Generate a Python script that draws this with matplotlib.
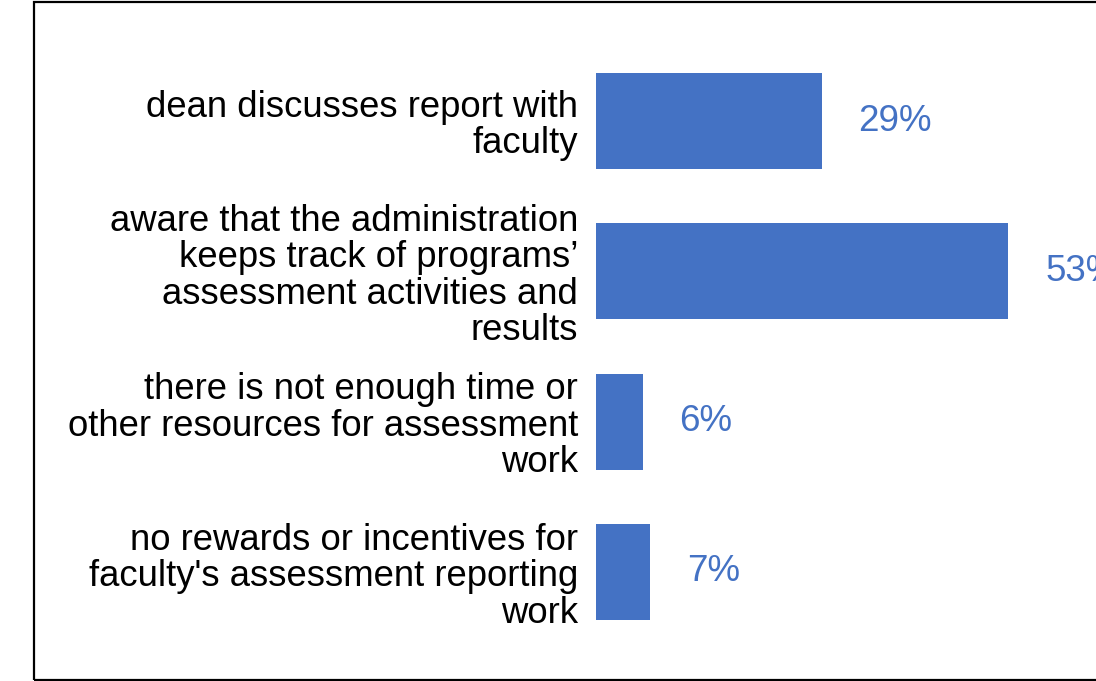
import matplotlib
matplotlib.use("Agg")
import matplotlib.pyplot as plt
from matplotlib.patches import Rectangle

categories = [
    "dean discusses report with\nfaculty",
    "aware that the administration\nkeeps track of programs\u2019\nassessment activities and\nresults",
    "there is not enough time or\nother resources for assessment\nwork",
    "no rewards or incentives for\nfaculty's assessment reporting\nwork",
]
percents = [29, 53, 6, 7]

BLUE = "#4472C4"
W, H = 1096, 681

plt.rcParams['font.family'] = ['Liberation Sans', 'DejaVu Sans']

fig = plt.figure(figsize=(W / 100, H / 100), dpi=100)
fig.patch.set_facecolor("white")

# frame around the chart, running off the right edge
fig.patches.append(Rectangle((34 / W, 1.5 / H), 1.2, (H - 3.5) / H,
                             transform=fig.transFigure, fill=False,
                             edgecolor="black", linewidth=1.6, clip_on=False))

# axes: x=0 sits at pixel 596, 1% is ~7.78 px
x0 = 596 / W
ax = fig.add_axes([x0, 0, 1 - x0, 1])
px_per_pct = 7.78
ax.set_xlim(0, (W - 596) / px_per_pct)
step = 150.3
ax.set_ylim(3 + (H - 572) / step, -121 / step)

ypos = list(range(len(categories)))
ax.barh(ypos, percents, height=0.64, color=BLUE)

for y, v in zip(ypos, percents):
    ax.annotate(f"{v}%", (v, y), xytext=(26.5, 0), textcoords="offset points",
                ha="left", va="center", fontsize=26.5, color=BLUE,
                annotation_clip=False)

ax.set_yticks(ypos)
ax.set_yticklabels(categories, fontsize=26.3, ha="right", linespacing=1.05)
ax.tick_params(axis="y", length=0, pad=13)
ax.set_xticks([])
for s in ax.spines.values():
    s.set_visible(False)
ax.patch.set_alpha(0)

fig.savefig("out.png", dpi=100)
